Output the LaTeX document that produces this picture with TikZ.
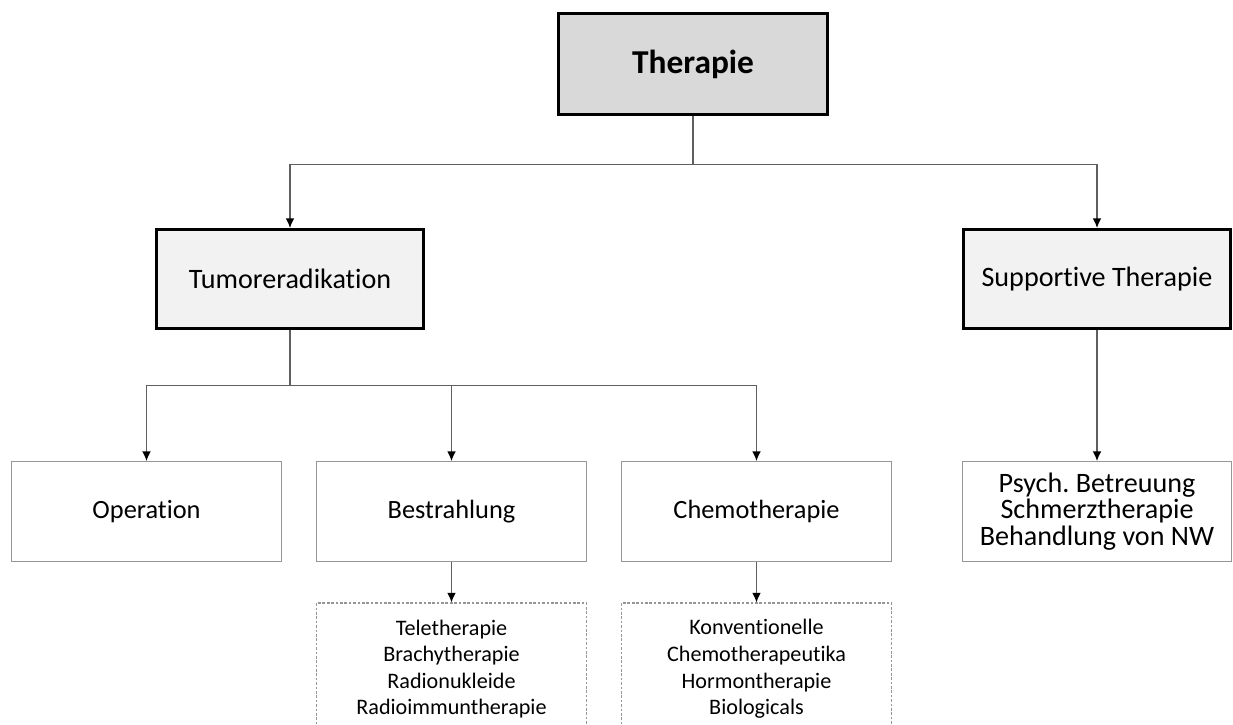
\documentclass[tikz,border=0pt]{standalone}
\usepackage{fontspec}
\setmainfont{Carlito}[Ligatures=NoCommon ,Contextuals=NoAlternate ,RawFeature={-liga;-clig;-calt;-dlig}]
\usepackage{xcolor}
\usepackage{tikz}
\usetikzlibrary{positioning,arrows.meta}
\definecolor{headgray}{RGB}{217,217,217}
\definecolor{branchgray}{RGB}{242,242,242}
\definecolor{framegray}{RGB}{150,150,150}
\definecolor{wiregray}{RGB}{95,95,95}
\frenchspacing

\begin{document}
\begin{tikzpicture}[-{Latex[black,length=5.5pt,width=5pt]} ,on grid ,line width=0.8pt ,wiregray ,
  mainbox/.style ={rectangle ,draw=black ,line width=1.7pt ,fill=headgray ,text=black ,minimum width=5.38cm ,minimum height=2.02cm ,font=\fontsize{19}{23}\selectfont\bfseries},
  branch/.style ={rectangle ,draw=black ,line width=1.7pt ,fill=branchgray ,text=black ,minimum width=5.34cm ,minimum height=1.98cm ,font=\fontsize{16}{19}\selectfont},
  leaf/.style ={rectangle ,draw=framegray ,line width=0.8pt ,fill=white ,text=black ,align=center ,minimum width=5.39cm ,minimum height=1.99cm ,font=\fontsize{15}{15.1}\selectfont},
  detail/.style ={rectangle ,draw=framegray ,line width=0.6pt ,dash pattern=on 1.5pt off 1pt ,text=black ,align=center ,minimum width=5.40cm ,minimum height=2.64cm ,font=\fontsize{12.6}{15.1}\selectfont}]
\useasboundingbox (0,0) rectangle (24.66,-14.5);
\clip (0,0) rectangle (24.66,-14.5);
\node[mainbox] (ther) at (13.86,-1.28) {Therapie};
\node[branch] (tumor) [below left = 4.30cm and 8.06cm of ther] {Tumoreradikation};
\node[branch] (supp) [below right = 4.30cm and 8.08cm of ther] {Supportive Therapie};
\node[leaf] (bestr) [below right = 4.65cm and 3.23cm of tumor] {Bestrahlung};
\node[leaf] (oper) [left = 6.10cm of bestr] {Operation};
\node[leaf] (chemo) [right = 6.10cm of bestr] {Chemotherapie};
\node[leaf ,font=\fontsize{16}{15.1}\selectfont] (psych) [below = 4.65cm of supp] {Psych. Betreuung\\Schmerztherapie\\Behandlung von NW};
\node[detail] (radio) [below = 3.15cm of bestr] {Teletherapie\\Brachytherapie\\Radionukleide\\Radioimmuntherapie};
\node[detail] (chemlist) [below = 3.15cm of chemo] {Konventionelle\\Chemotherapeutika\\Hormontherapie\\Biologicals};
\coordinate[below = 0.97cm of ther.south] (split1);
\coordinate[below = 1.11cm of tumor.south] (split2);
\draw (ther.south) -- (split1) -| (tumor.north);
\draw (split1) -| (supp.north);
\draw (tumor.south) -- (split2) -| (oper.north);
\draw (split2) -| (bestr.north);
\draw (split2) -| (chemo.north);
\draw (supp) -- (psych);
\draw (bestr) -- (radio);
\draw (chemo) -- (chemlist);
\end{tikzpicture}
\end{document}
